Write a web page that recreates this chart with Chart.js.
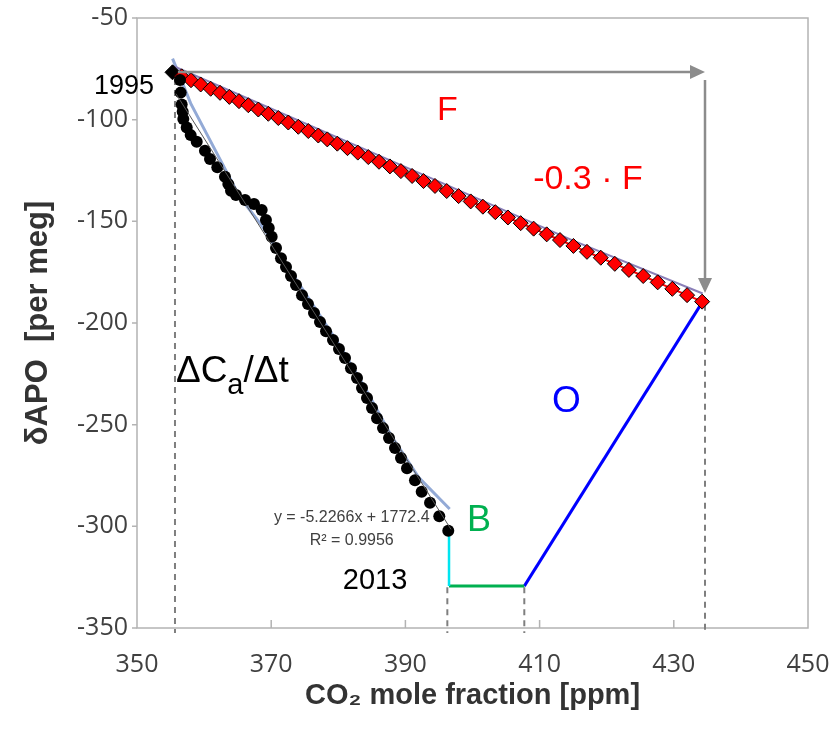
<!DOCTYPE html>
<html>
<head>
<meta charset="utf-8">
<script src="https://cdn.jsdelivr.net/npm/chart.js@4.4.1/dist/chart.umd.min.js"></script>
<style>
  html, body { margin: 0; padding: 0; background: #fff; }
  #wrap { width: 840px; height: 729px; }
</style>
</head>
<body>
<div id="wrap"><canvas id="chart-apo" width="840" height="729"></canvas></div>
<script>
// fossil-fuel vector F: CO2 [ppm] and dAPO [per meg]
const fossilCo2 = [355.29, 356.66, 358.05, 359.49, 360.98, 362.37, 363.76, 365.20, 366.59, 368.08,
    369.57, 371.06, 372.55, 374.04, 375.53, 377.02, 378.36, 379.85, 381.37, 382.91,
    384.47, 386.07, 387.69, 389.33, 391.00, 392.70, 394.41, 396.16, 397.93, 399.73,
    401.55, 403.40, 405.28, 407.18, 409.11, 411.06, 413.04, 415.04, 417.06, 419.12,
    421.21, 423.31, 425.44, 427.60, 429.78, 431.98, 434.22];
const fossilApo = [-76.7, -78.7, -80.6, -82.7, -84.8, -86.8, -88.8, -90.9, -92.9, -95.0,
    -97.1, -99.2, -101.4, -103.5, -105.6, -107.8, -109.7, -111.8, -114.0, -116.2,
    -118.4, -120.7, -123.0, -125.3, -127.7, -130.2, -132.6, -135.1, -137.6, -140.2,
    -142.8, -145.5, -148.1, -150.9, -153.6, -156.4, -159.2, -162.1, -165.0, -167.9,
    -170.9, -173.9, -176.9, -180.0, -183.2, -186.3, -189.5];

// observed record 1995-2013
const obsCo2 = [356.41, 356.51, 356.66, 356.81, 356.90, 357.41, 358.00, 358.90, 360.13, 360.88,
    361.97, 363.11, 363.61, 364.01, 364.75, 366.10, 367.44, 368.58, 369.22, 369.64,
    370.07, 370.72, 371.46, 372.21, 372.95, 373.70, 374.59, 375.48, 376.38, 377.27,
    378.17, 379.21, 380.10, 381.00, 381.89, 382.79, 383.53, 384.28, 385.02, 385.77,
    386.66, 387.56, 388.45, 389.34, 390.24, 391.43, 392.43, 393.67, 395.05, 396.39];
const obsApo = [-80.5, -86.7, -92.5, -96.1, -99.7, -103.8, -107.6, -110.9, -115.3, -119.4,
    -123.4, -128.1, -131.7, -135.0, -137.1, -139.5, -141.5, -144.4, -149.4, -153.3,
    -157.6, -163.1, -168.1, -172.5, -176.9, -181.3, -186.3, -190.7, -195.1, -199.5,
    -204.0, -208.4, -212.8, -217.2, -222.2, -227.1, -232.0, -236.9, -241.8, -246.8,
    -251.7, -256.6, -261.5, -266.4, -271.4, -277.3, -283.0, -288.4, -295.0, -302.2];

// smoothed curves under the two series
const obsSmoothCo2 = [355.3, 358.0, 361.5, 365.3, 368.8, 372.0, 376.0, 380.0, 384.0, 388.0, 392.0, 396.6];
const obsSmoothApo = [-70, -92, -114, -138, -153, -170, -190, -210, -232, -256, -276, -291.5];
const fossilSmoothCo2 = [355.3, 395.0, 415.0, 434.3];
const fossilSmoothApo = [-73.5, -130.5, -159.5, -185.5];

// linear fit y = -5.2266x + 1772.4
const trendCo2 = [355.8, 396.8];
const trendApo = [-87.22, -301.51];

// budget legs: B (cyan + green) and O (blue)
const legBCo2 = [396.5, 396.5];
const legBApo = [-303.5, -329.4];
const legFlatCo2 = [396.5, 407.72];
const legFlatApo = [-329.4, -329.4];
const legOCo2 = [407.72, 434.2];
const legOApo = [-329.4, -190.0];

// dashed drop lines
const guideCo2 = [355.66, 396.25, 407.72, 434.65];
const guideTop = [-80, -330, -330, -191];
const guideBottom = -352.5;

// grey arrows (from, to)
const arrows = [
    [[356.1, -76.6], [434.65, -76.6]],
    [[434.65, -80.5], [434.65, -185.3]]
];

const xTicks = [350, 370, 390, 410, 430, 450];
const yTicks = [-350, -300, -250, -200, -150, -100, -50];

const SANS = "'Liberation Sans', Arial, sans-serif";
const TICK_FONT = "'Open Sans', 'Liberation Sans', sans-serif";

const notes = [
    { text: '1995', x: 348.06, y: -83.7, color: '#000000', size: 27 },
    { text: 'F', x: 396.24, y: -95.5, color: '#ff0000', size: 34 },
    { text: '-0.3 \u00b7 F', x: 417.2, y: -129.7, color: '#ff0000', size: 34 },
    { text: 'O', x: 414.0, y: -238.9, color: '#0000ff', size: 37 },
    { text: 'B', x: 400.97, y: -297.2, color: '#00b050', size: 36 },
    { text: '2013', x: 385.47, y: -326.9, color: '#000000', size: 29 },
    { text: 'y = -5.2266x + 1772.4', x: 382.0, y: -295.8, color: '#404040', size: 16 },
    { text: 'R\u00b2 = 0.9956', x: 382.0, y: -306.8, color: '#404040', size: 16 }
];

const pts = (xs, ys) => xs.map((x, i) => ({ x: x, y: ys[i] }));

function guideData() {
    const out = [];
    guideCo2.forEach((x, i) => {
        out.push({ x: x, y: guideTop[i] }, { x: x, y: guideBottom }, { x: x, y: null });
    });
    return out;
}

function drawArrow(ctx, x0, y0, x1, y1) {
    const ang = Math.atan2(y1 - y0, x1 - x0);
    const head = 15, half = 7;
    ctx.beginPath();
    ctx.moveTo(x0, y0);
    ctx.lineTo(x1 - Math.cos(ang) * head, y1 - Math.sin(ang) * head);
    ctx.stroke();
    ctx.beginPath();
    ctx.moveTo(x1, y1);
    ctx.lineTo(x1 - Math.cos(ang) * head - Math.sin(ang) * half, y1 - Math.sin(ang) * head + Math.cos(ang) * half);
    ctx.lineTo(x1 - Math.cos(ang) * head + Math.sin(ang) * half, y1 - Math.sin(ang) * head - Math.cos(ang) * half);
    ctx.closePath();
    ctx.fill();
}

const overlay = {
    id: 'overlay',
    beforeDatasetsDraw(chart) {
        const { ctx, chartArea: a, scales: { x, y } } = chart;
        ctx.save();
        ctx.strokeStyle = '#b3b3b3';
        ctx.lineWidth = 1.5;
        ctx.strokeRect(a.left, a.top, a.right - a.left, a.bottom - a.top);
        ctx.beginPath();
        yTicks.forEach(v => {
            const py = y.getPixelForValue(v);
            ctx.moveTo(a.left - 5, py);
            ctx.lineTo(a.left, py);
        });
        xTicks.slice(1, -1).forEach(v => {
            const px = x.getPixelForValue(v);
            ctx.moveTo(px, a.bottom - 8);
            ctx.lineTo(px, a.bottom);
        });
        ctx.stroke();
        ctx.restore();
    },
    afterDatasetsDraw(chart) {
        const { ctx, scales: { x, y } } = chart;
        ctx.save();
        ctx.strokeStyle = '#8c8c8c';
        ctx.fillStyle = '#8c8c8c';
        ctx.lineWidth = 2.5;
        arrows.forEach(([p0, p1]) => {
            drawArrow(ctx, x.getPixelForValue(p0[0]), y.getPixelForValue(p0[1]),
                x.getPixelForValue(p1[0]), y.getPixelForValue(p1[1]));
        });

        ctx.textAlign = 'center';
        ctx.textBaseline = 'middle';
        notes.forEach(n => {
            ctx.font = n.size + 'px ' + SANS;
            ctx.fillStyle = n.color;
            ctx.fillText(n.text, x.getPixelForValue(n.x), y.getPixelForValue(n.y));
        });

        // dCa/dt with subscript a
        let px = x.getPixelForValue(355.8);
        const py = y.getPixelForValue(-229.0);
        ctx.textAlign = 'left';
        ctx.textBaseline = 'alphabetic';
        ctx.fillStyle = '#000000';
        ctx.font = '37px ' + SANS;
        ctx.fillText('\u0394C', px, py);
        px += ctx.measureText('\u0394C').width;
        ctx.font = '29px ' + SANS;
        ctx.fillText('a', px, py + 12);
        px += ctx.measureText('a').width;
        ctx.font = '37px ' + SANS;
        ctx.fillText('/\u0394t', px, py);
        ctx.restore();
    }
};

const chart = new Chart(document.querySelector('#chart-apo'), {
    type: 'scatter',
    data: {
        datasets: [
            {
                label: 'fossil',
                data: pts(fossilCo2, fossilApo),
                showLine: true,
                borderColor: '#ff0000',
                borderWidth: 2,
                pointStyle: 'rectRot',
                pointRadius: 7.5,
                pointBackgroundColor: fossilCo2.map((v, i) => i === 0 ? '#000000' : '#ff0000'),
                pointBorderColor: '#000000',
                pointBorderWidth: 1,
                order: 5
            },
            {
                label: 'observed',
                data: pts(obsCo2, obsApo),
                pointRadius: 6,
                pointBackgroundColor: '#000000',
                pointBorderColor: '#000000',
                pointBorderWidth: 0,
                order: 4
            },
            {
                label: 'trend',
                data: pts(trendCo2, trendApo),
                showLine: true,
                borderColor: '#555555',
                borderWidth: 1,
                pointRadius: 0,
                order: 3
            },
            {
                label: 'observed smooth',
                data: pts(obsSmoothCo2, obsSmoothApo),
                showLine: true,
                borderColor: '#93aad6',
                borderWidth: 3,
                pointRadius: 0,
                order: 8
            },
            {
                label: 'fossil smooth',
                data: pts(fossilSmoothCo2, fossilSmoothApo),
                showLine: true,
                borderColor: '#8a7fb8',
                borderWidth: 2,
                pointRadius: 0,
                order: 7
            },
            {
                label: 'B',
                data: pts(legBCo2, legBApo),
                showLine: true,
                borderColor: '#00e5f0',
                borderWidth: 2.5,
                pointRadius: 0,
                order: 6
            },
            {
                label: 'B flat',
                data: pts(legFlatCo2, legFlatApo),
                showLine: true,
                borderColor: '#00b050',
                borderWidth: 3,
                pointRadius: 0,
                order: 6
            },
            {
                label: 'O',
                data: pts(legOCo2, legOApo),
                showLine: true,
                borderColor: '#0000ff',
                borderWidth: 3,
                pointRadius: 0,
                order: 6
            },
            {
                label: 'guides',
                data: guideData(),
                showLine: true,
                spanGaps: false,
                borderColor: '#7f7f7f',
                borderWidth: 2,
                borderDash: [6, 5],
                pointRadius: 0,
                clip: false,
                order: 10
            }
        ]
    },
    options: {
        responsive: false,
        animation: false,
        devicePixelRatio: 1,
        layout: { padding: { top: 18, right: 32, left: 0, bottom: 0 } },
        scales: {
            x: {
                type: 'linear',
                min: 350,
                max: 450,
                afterFit: s => {
                    s.height = 101;
                    s.paddingLeft = 0;
                    s.paddingRight = 0;
                },
                afterBuildTicks: s => { s.ticks = xTicks.map(v => ({ value: v })); },
                ticks: {
                    padding: 22,
                    color: '#404040',
                    font: { family: TICK_FONT, size: 25 }
                },
                grid: { display: false, drawTicks: false },
                border: { display: false },
                title: {
                    display: true,
                    text: 'CO\u2082 mole fraction [ppm]',
                    color: '#333333',
                    font: { family: SANS, size: 29, weight: 'bold' },
                    padding: { top: 0, bottom: 16 }
                }
            },
            y: {
                type: 'linear',
                min: -350,
                max: -50,
                afterFit: s => {
                    s.width = 137;
                    s.paddingTop = 0;
                    s.paddingBottom = 0;
                },
                afterBuildTicks: s => { s.ticks = yTicks.map(v => ({ value: v })); },
                ticks: {
                    padding: 9,
                    color: '#404040',
                    font: { family: TICK_FONT, size: 25 }
                },
                grid: { display: false, drawTicks: false },
                border: { display: false },
                title: {
                    display: true,
                    text: '\u03b4APO  [per meg]',
                    color: '#333333',
                    font: { family: SANS, size: 31, weight: 'bold' },
                    padding: { top: 20, bottom: 0 }
                }
            }
        },
        plugins: {
            legend: { display: false },
            tooltip: { enabled: false }
        }
    },
    plugins: [overlay]
});
</script>
</body>
</html>
